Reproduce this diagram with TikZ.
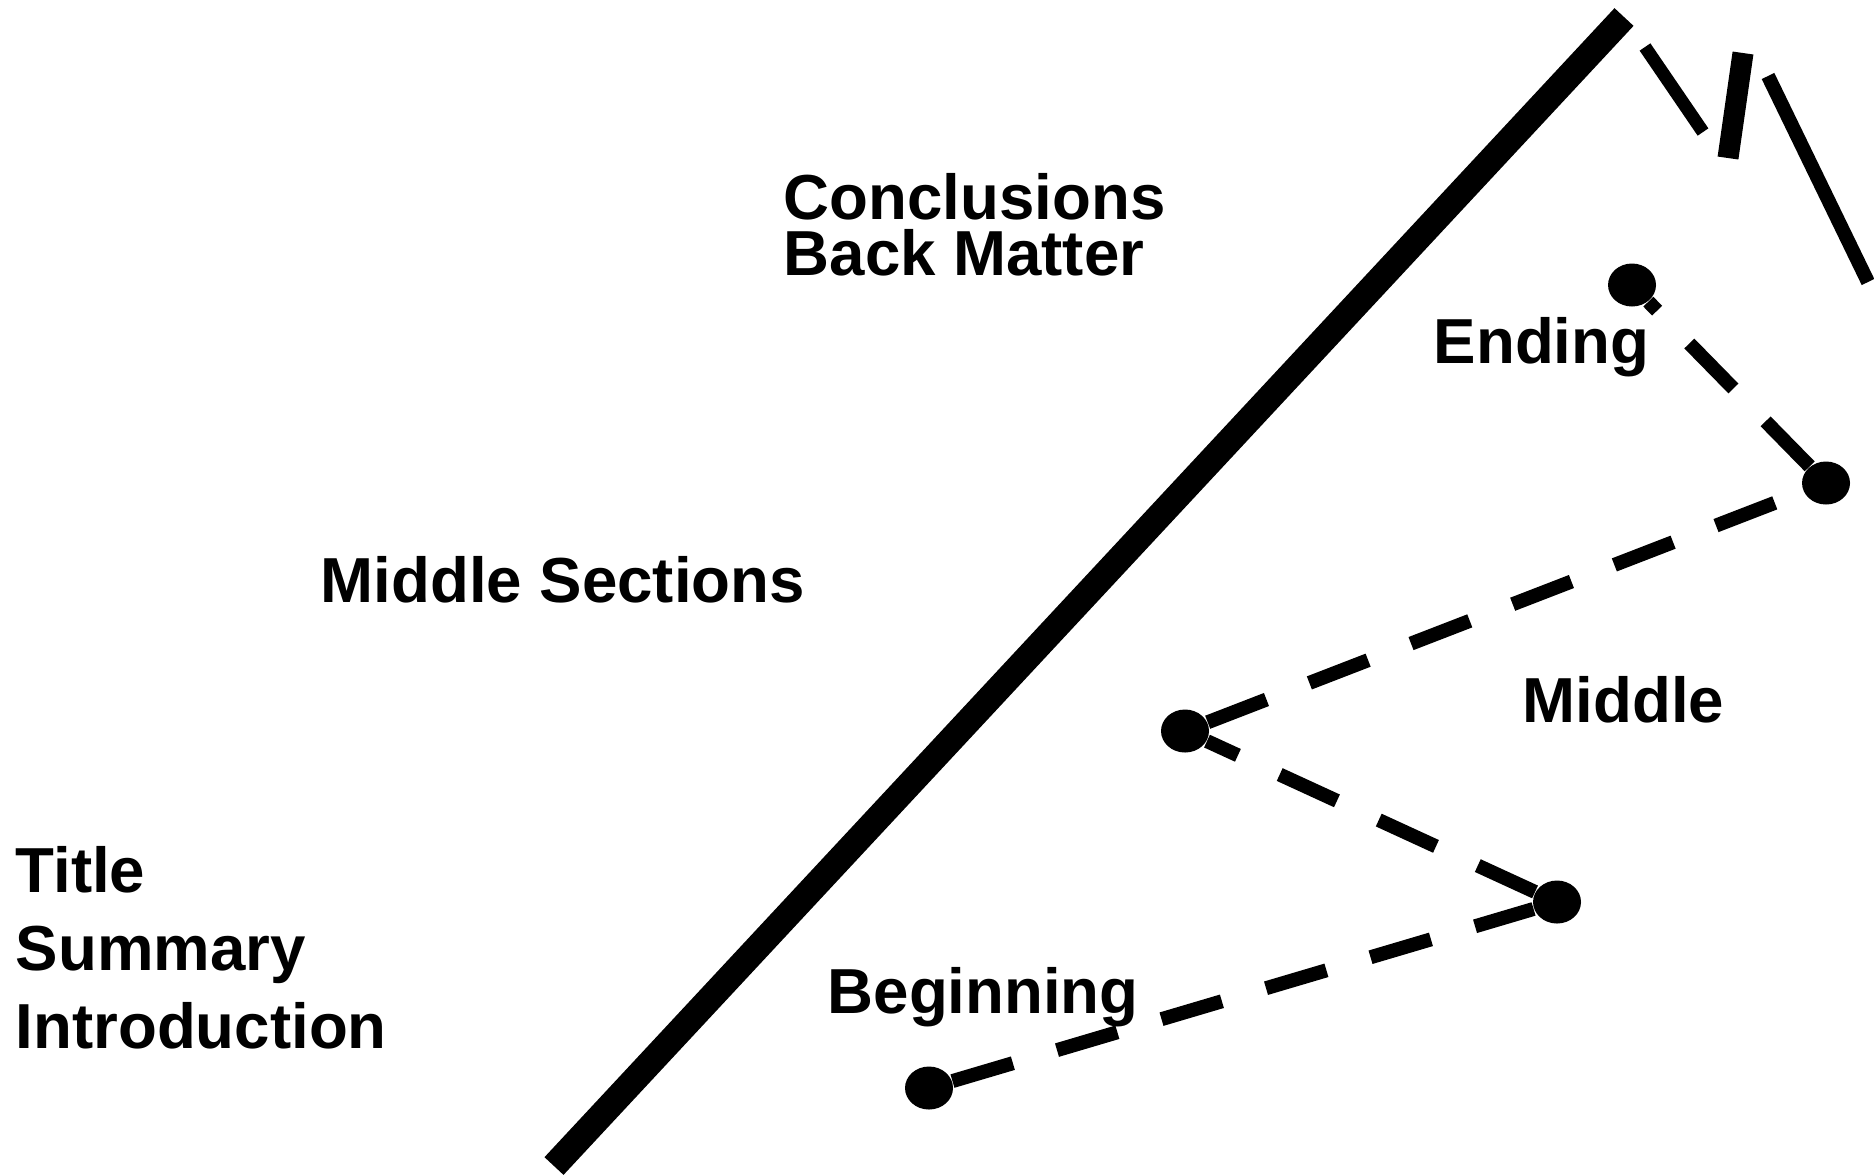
\documentclass[tikz,border=0pt]{standalone}
\usepackage{fontspec}
\setmainfont{Liberation Sans}
\usetikzlibrary{shapes.geometric}

\begin{document}
\begin{tikzpicture}[x=1cm,y=-1cm,
	lbl/.style={inner sep=0pt,anchor=base west,align=left,
		font=\bfseries\fontsize{18.1}{#1}\selectfont},
	lbl/.default=21,
	dot/.style={ellipse,fill=black,inner sep=0pt,
		minimum width=0.48cm,minimum height=0.43cm},
	trail/.style={line width=0.14cm,dash pattern=on 0.63cm off 0.46cm}]
	
	\useasboundingbox (0,0) rectangle (18.74,11.74);
	
	% The dividing stroke
	\coordinate (lo) at (5.54,11.66);
	\coordinate (hi) at (16.24,0.17);
	\draw[line width=0.26cm] (lo) -- (hi);
	
	% Broken strokes at the top right corner
	\draw[line width=0.13cm] (16.45,0.47) -- (17.03,1.32);
	\draw[line width=0.21cm] (17.43,0.53) -- (17.28,1.58);
	\draw[line width=0.14cm] (17.68,0.76) -- (18.68,2.82);
	
	% Left of the stroke: the parts of the document
	% (multi-line nodes sit on their last baseline)
	\node[lbl=22.1] (front) at (0.15,10.48) {Title\\Summary\\Introduction};
	\node[lbl] (sections) at (3.20,6.02) {Middle Sections};
	\node[lbl=15.9] (back) at (7.83,2.75) {Conclusions\\Back Matter};
	
	% Right of the stroke: the path through the text
	\node[dot] (e) at (9.29,10.88) {};
	\node[dot] (d) at (15.57,9.02) {};
	\node[dot] (c) at (11.85,7.31) {};
	\node[dot] (b) at (18.26,4.83) {};
	\node[dot] (a) at (16.32,2.85) {};
	
	\draw[trail] (e) -- (d);
	\draw[trail] (d) -- (c);
	\draw[trail] (c) -- (b);
	\draw[trail] (b) -- (a);
	
	\node[lbl] (begin) at (8.27,10.13) {Beginning};
	\node[lbl] (mid) at (15.22,7.22) {Middle};
	\node[lbl] (end) at (14.33,3.63) {Ending};
	
\end{tikzpicture}
\end{document}
